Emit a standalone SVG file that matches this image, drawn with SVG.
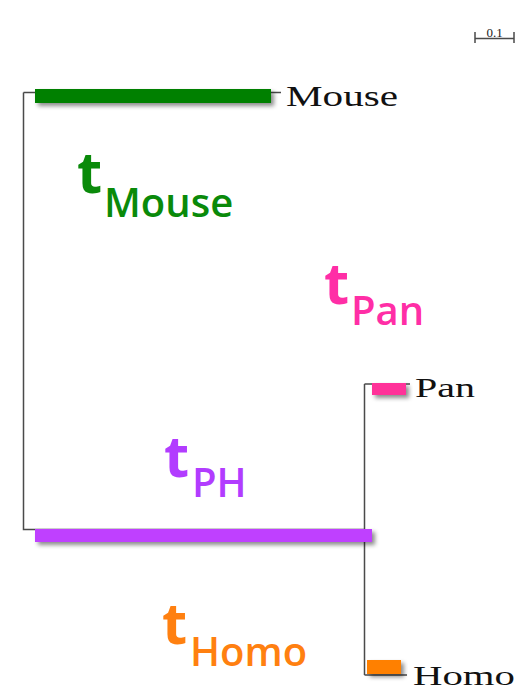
<svg xmlns="http://www.w3.org/2000/svg" width="523" height="690" viewBox="0 0 523 690">
  <style>
    .edge { stroke: #4a4a4a; stroke-width: 1.5; fill: none; }
    .leaf { font-family: "Liberation Serif", serif; fill: #111; }
    .t { font-family: "Open Sans", Lato, sans-serif; font-weight: 700; }
    .big { font-size: 58px; }
    .sub { font-size: 40px; font-weight: 600; }
    .mouse { fill: #0a8a0a; }
    .pan { fill: #ff2ea6; }
    .ph { fill: #b23cff; }
    .homo { fill: #ff8010; }
  </style>
  <defs>
    <filter id="shadow" x="-10%" y="-50%" width="130%" height="250%">
      <feDropShadow dx="3" dy="3" stdDeviation="2" flood-color="#000" flood-opacity="0.45"/>
    </filter>
  </defs>
  <rect width="523" height="690" fill="#fff"/>

  <!-- scale bar -->
  <g id="scale">
    <path class="edge" d="M475 32 V43 M475 38.5 H514 M514 32 V43" stroke-width="1"/>
    <text x="494.5" y="37" font-family="Liberation Serif, serif" font-size="13" text-anchor="middle" fill="#222">0.1</text>
  </g>

  <!-- branches -->
  <g id="connectors">
    <path class="edge" d="M23.5 92.5 H281"/>
    <path class="edge" d="M23.5 92.5 V529.5 H364.5"/>
    <path class="edge" d="M364.5 384 V675"/>
    <path class="edge" d="M364.5 384 H410"/>
    <path class="edge" d="M364.5 675 H407"/>
  </g>

  <g id="mouse">
    <rect x="35" y="89" width="236" height="14" fill="#008000" filter="url(#shadow)"/>
    <text class="leaf" x="286" y="106" font-size="29" textLength="112" lengthAdjust="spacingAndGlyphs">Mouse</text>
  </g>
  <g id="pan">
    <rect x="372" y="383" width="34" height="12" fill="#ff3399" filter="url(#shadow)"/>
    <text class="leaf" x="415" y="397" font-size="27" textLength="60" lengthAdjust="spacingAndGlyphs">Pan</text>
  </g>
  <g id="ph">
    <rect x="35" y="529" width="337" height="13" fill="#bf40ff" filter="url(#shadow)"/>
  </g>
  <g id="homo">
    <rect x="367" y="660" width="34" height="14" fill="#ff8000" filter="url(#shadow)"/>
    <text class="leaf" x="413" y="685" font-size="27" textLength="102" lengthAdjust="spacingAndGlyphs">Homo</text>
  </g>

  <!-- branch-length labels -->
  <g id="label-mouse" class="t mouse">
    <text class="big" x="77" y="193">t</text>
    <text class="sub" x="104" y="217">Mouse</text>
  </g>
  <g id="label-pan" class="t pan">
    <text class="big" x="324" y="304">t</text>
    <text class="sub" x="351" y="325">Pan</text>
  </g>
  <g id="label-ph" class="t ph">
    <text class="big" x="164" y="477">t</text>
    <text class="sub" x="192" y="497">PH</text>
  </g>
  <g id="label-homo" class="t homo">
    <text class="big" x="162" y="644">t</text>
    <text class="sub" x="190" y="666">Homo</text>
  </g>
</svg>
